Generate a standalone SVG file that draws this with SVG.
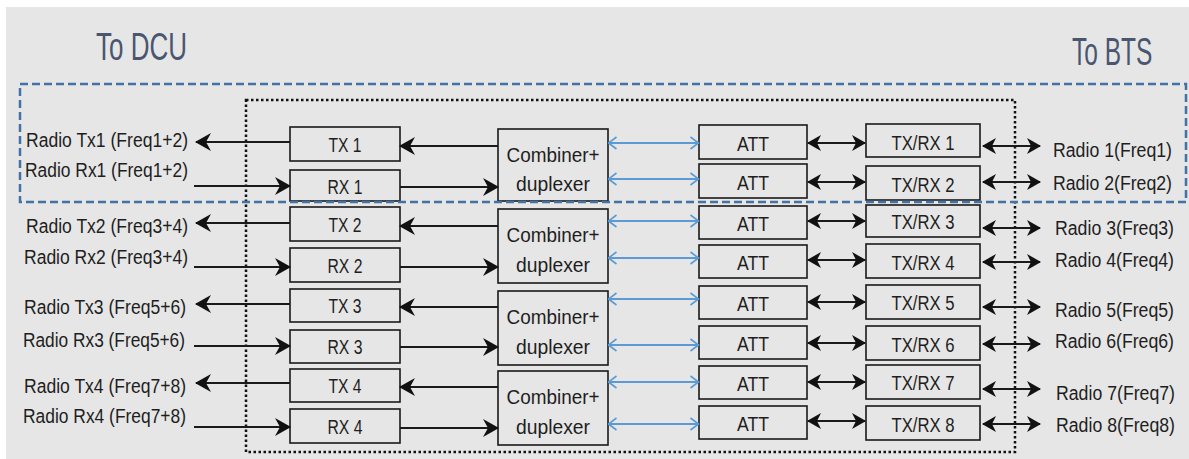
<svg xmlns="http://www.w3.org/2000/svg" width="1189" height="459" viewBox="0 0 1189 459">
<style>
.box{fill:none;stroke:#1a1a1a;stroke-width:1.6}
.t{font-family:"Liberation Sans",Arial,sans-serif;font-size:20px;fill:#1e1e1e}
.hd{font-family:"Liberation Sans",Arial,sans-serif;font-size:38px;fill:#4a5670}
.bl{stroke:#1a1a1a;stroke-width:1.8;fill:none}
.bu{stroke:#5b9bd5;stroke-width:1.8;fill:none}
</style>
<defs>
<marker id="ah" viewBox="0 0 16 18" refX="15" refY="9" markerWidth="16" markerHeight="18" markerUnits="userSpaceOnUse" orient="auto-start-reverse"><path d="M0,0 L16,9 L0,18 L5,9 z" fill="#111"/></marker>
<marker id="as" viewBox="0 0 14 16" refX="13" refY="8" markerWidth="14" markerHeight="16" markerUnits="userSpaceOnUse" orient="auto-start-reverse"><path d="M0,0 L14,8 L0,16 L4,8 z" fill="#111"/></marker>
<marker id="bh" viewBox="0 0 10 14" refX="9.5" refY="7" markerWidth="10" markerHeight="14" markerUnits="userSpaceOnUse" orient="auto-start-reverse"><path d="M1,1 L9,7 L1,13" fill="none" stroke="#5b9bd5" stroke-width="1.6"/></marker>
</defs>
<rect x="0" y="0" width="1189" height="459" fill="#ffffff"/>
<rect x="6" y="7" width="1183" height="452" fill="#e6e6e6"/>
<text class="hd" x="96" y="60" textLength="91" lengthAdjust="spacingAndGlyphs">To DCU</text>
<text class="hd" transform="translate(1072,65) scale(0.645,1)" x="0" y="0">To BTS</text>
<rect x="246" y="100" width="769" height="352" fill="none" stroke="#111" stroke-width="2.5" stroke-dasharray="2.5 2.5"/>

<g id="lbl-left">
<text class="t" x="26" y="147" textLength="162" lengthAdjust="spacingAndGlyphs">Radio Tx1 (Freq1+2)</text>
<text class="t" x="25" y="177" textLength="163" lengthAdjust="spacingAndGlyphs">Radio Rx1 (Freq1+2)</text>
<text class="t" x="26" y="233" textLength="162" lengthAdjust="spacingAndGlyphs">Radio Tx2 (Freq3+4)</text>
<text class="t" x="24" y="264" textLength="164" lengthAdjust="spacingAndGlyphs">Radio Rx2 (Freq3+4)</text>
<text class="t" x="24" y="314" textLength="162" lengthAdjust="spacingAndGlyphs">Radio Tx3 (Freq5+6)</text>
<text class="t" x="23" y="347" textLength="162" lengthAdjust="spacingAndGlyphs">Radio Rx3 (Freq5+6)</text>
<text class="t" x="24" y="393" textLength="162" lengthAdjust="spacingAndGlyphs">Radio Tx4 (Freq7+8)</text>
<text class="t" x="23" y="423" textLength="163" lengthAdjust="spacingAndGlyphs">Radio Rx4 (Freq7+8)</text>
</g>
<g id="lbl-right" text-anchor="end">
<text class="t" x="1172" y="157" text-anchor="end" textLength="119" lengthAdjust="spacingAndGlyphs">Radio 1(Freq1)</text>
<text class="t" x="1172" y="190" text-anchor="end" textLength="119" lengthAdjust="spacingAndGlyphs">Radio 2(Freq2)</text>
<text class="t" x="1174" y="235" text-anchor="end" textLength="119" lengthAdjust="spacingAndGlyphs">Radio 3(Freq3)</text>
<text class="t" x="1174" y="267" text-anchor="end" textLength="119" lengthAdjust="spacingAndGlyphs">Radio 4(Freq4)</text>
<text class="t" x="1174" y="317" text-anchor="end" textLength="119" lengthAdjust="spacingAndGlyphs">Radio 5(Freq5)</text>
<text class="t" x="1174" y="348" text-anchor="end" textLength="119" lengthAdjust="spacingAndGlyphs">Radio 6(Freq6)</text>
<text class="t" x="1175" y="400" text-anchor="end" textLength="119" lengthAdjust="spacingAndGlyphs">Radio 7(Freq7)</text>
<text class="t" x="1175" y="432" text-anchor="end" textLength="119" lengthAdjust="spacingAndGlyphs">Radio 8(Freq8)</text>
</g>

<g text-anchor="middle">
<g id="tx1"><rect class="box" x="290" y="127" width="110" height="34"/><text class="t" x="345" y="152" textLength="33" lengthAdjust="spacingAndGlyphs">TX 1</text></g>
<g id="rx1"><rect class="box" x="290" y="170" width="110" height="31"/><text class="t" x="345" y="194" textLength="35" lengthAdjust="spacingAndGlyphs">RX 1</text></g>
<g id="tx2"><rect class="box" x="290" y="207" width="110" height="34"/><text class="t" x="345" y="232" textLength="33" lengthAdjust="spacingAndGlyphs">TX 2</text></g>
<g id="rx2"><rect class="box" x="290" y="248" width="110" height="34"/><text class="t" x="345" y="273" textLength="35" lengthAdjust="spacingAndGlyphs">RX 2</text></g>
<g id="tx3"><rect class="box" x="290" y="289" width="110" height="33"/><text class="t" x="345" y="313" textLength="33" lengthAdjust="spacingAndGlyphs">TX 3</text></g>
<g id="rx3"><rect class="box" x="290" y="330" width="110" height="33"/><text class="t" x="345" y="354" textLength="35" lengthAdjust="spacingAndGlyphs">RX 3</text></g>
<g id="tx4"><rect class="box" x="290" y="369" width="110" height="33"/><text class="t" x="345" y="393" textLength="33" lengthAdjust="spacingAndGlyphs">TX 4</text></g>
<g id="rx4"><rect class="box" x="290" y="409" width="110" height="34"/><text class="t" x="345" y="434" textLength="35" lengthAdjust="spacingAndGlyphs">RX 4</text></g>

<g id="comb1"><rect class="box" x="498" y="129" width="110" height="72"/><text class="t" x="553" y="162" textLength="93" lengthAdjust="spacingAndGlyphs">Combiner+</text><text class="t" x="553" y="191" textLength="74" lengthAdjust="spacingAndGlyphs">duplexer</text></g>
<g id="comb2"><rect class="box" x="498" y="209" width="110" height="74"/><text class="t" x="553" y="242" textLength="93" lengthAdjust="spacingAndGlyphs">Combiner+</text><text class="t" x="553" y="272" textLength="74" lengthAdjust="spacingAndGlyphs">duplexer</text></g>
<g id="comb3"><rect class="box" x="498" y="291" width="110" height="74"/><text class="t" x="553" y="324" textLength="93" lengthAdjust="spacingAndGlyphs">Combiner+</text><text class="t" x="553" y="354" textLength="74" lengthAdjust="spacingAndGlyphs">duplexer</text></g>
<g id="comb4"><rect class="box" x="498" y="371" width="110" height="74"/><text class="t" x="553" y="404" textLength="93" lengthAdjust="spacingAndGlyphs">Combiner+</text><text class="t" x="553" y="434" textLength="74" lengthAdjust="spacingAndGlyphs">duplexer</text></g>

<g id="att1"><rect class="box" x="699" y="125" width="108" height="34"/><text class="t" x="753" y="151" textLength="32" lengthAdjust="spacingAndGlyphs">ATT</text></g>
<g id="att2"><rect class="box" x="699" y="164" width="108" height="34"/><text class="t" x="753" y="190" textLength="32" lengthAdjust="spacingAndGlyphs">ATT</text></g>
<g id="att3"><rect class="box" x="699" y="206" width="108" height="33"/><text class="t" x="753" y="231" textLength="32" lengthAdjust="spacingAndGlyphs">ATT</text></g>
<g id="att4"><rect class="box" x="699" y="245" width="108" height="33"/><text class="t" x="753" y="270" textLength="32" lengthAdjust="spacingAndGlyphs">ATT</text></g>
<g id="att5"><rect class="box" x="699" y="286" width="108" height="33"/><text class="t" x="753" y="311" textLength="32" lengthAdjust="spacingAndGlyphs">ATT</text></g>
<g id="att6"><rect class="box" x="699" y="326" width="108" height="33"/><text class="t" x="753" y="351" textLength="32" lengthAdjust="spacingAndGlyphs">ATT</text></g>
<g id="att7"><rect class="box" x="699" y="366" width="108" height="33"/><text class="t" x="753" y="391" textLength="32" lengthAdjust="spacingAndGlyphs">ATT</text></g>
<g id="att8"><rect class="box" x="699" y="406" width="108" height="33"/><text class="t" x="753" y="431" textLength="32" lengthAdjust="spacingAndGlyphs">ATT</text></g>

<g id="trx1"><rect class="box" x="866" y="124" width="114" height="33"/><text class="t" x="923" y="150" textLength="63" lengthAdjust="spacingAndGlyphs">TX/RX 1</text></g>
<g id="trx2"><rect class="box" x="866" y="166" width="114" height="34"/><text class="t" x="923" y="192" textLength="63" lengthAdjust="spacingAndGlyphs">TX/RX 2</text></g>
<g id="trx3"><rect class="box" x="866" y="205" width="114" height="32"/><text class="t" x="923" y="229" textLength="63" lengthAdjust="spacingAndGlyphs">TX/RX 3</text></g>
<g id="trx4"><rect class="box" x="866" y="244" width="114" height="34"/><text class="t" x="923" y="270" textLength="63" lengthAdjust="spacingAndGlyphs">TX/RX 4</text></g>
<g id="trx5"><rect class="box" x="866" y="285" width="114" height="34"/><text class="t" x="923" y="310" textLength="63" lengthAdjust="spacingAndGlyphs">TX/RX 5</text></g>
<g id="trx6"><rect class="box" x="866" y="326" width="114" height="34"/><text class="t" x="923" y="352" textLength="63" lengthAdjust="spacingAndGlyphs">TX/RX 6</text></g>
<g id="trx7"><rect class="box" x="866" y="365" width="114" height="34"/><text class="t" x="923" y="390" textLength="63" lengthAdjust="spacingAndGlyphs">TX/RX 7</text></g>
<g id="trx8"><rect class="box" x="866" y="406" width="114" height="34"/><text class="t" x="923" y="432" textLength="63" lengthAdjust="spacingAndGlyphs">TX/RX 8</text></g>
</g>

<g id="connectors">
<g marker-end="url(#ah)" class="bl">
<line x1="290" y1="142" x2="196" y2="142"/>
<line x1="290" y1="223" x2="196" y2="223"/>
<line x1="290" y1="304" x2="196" y2="304"/>
<line x1="290" y1="383" x2="196" y2="383"/>
<line x1="194" y1="186" x2="290" y2="186"/>
<line x1="194" y1="267" x2="290" y2="267"/>
<line x1="194" y1="346" x2="290" y2="346"/>
<line x1="194" y1="427" x2="290" y2="427"/>
<line x1="498" y1="146" x2="400" y2="146"/>
<line x1="498" y1="226" x2="400" y2="226"/>
<line x1="498" y1="307" x2="400" y2="307"/>
<line x1="498" y1="387" x2="400" y2="387"/>
<line x1="400" y1="187" x2="498" y2="187"/>
<line x1="400" y1="267" x2="498" y2="267"/>
<line x1="400" y1="347" x2="498" y2="347"/>
<line x1="400" y1="428" x2="498" y2="428"/>
</g>
<g marker-start="url(#bh)" marker-end="url(#bh)" class="bu">
<line x1="608" y1="143" x2="699" y2="143"/>
<line x1="608" y1="179" x2="699" y2="179"/>
<line x1="608" y1="221" x2="699" y2="221"/>
<line x1="608" y1="258" x2="699" y2="258"/>
<line x1="608" y1="299" x2="699" y2="299"/>
<line x1="608" y1="345" x2="699" y2="345"/>
<line x1="608" y1="382" x2="699" y2="382"/>
<line x1="608" y1="424" x2="699" y2="424"/>
</g>
<g marker-start="url(#as)" marker-end="url(#as)" class="bl">
<line x1="808" y1="143" x2="865" y2="143"/>
<line x1="808" y1="182" x2="865" y2="182"/>
<line x1="808" y1="221" x2="865" y2="221"/>
<line x1="808" y1="260" x2="865" y2="260"/>
<line x1="808" y1="302" x2="865" y2="302"/>
<line x1="808" y1="343" x2="865" y2="343"/>
<line x1="808" y1="382" x2="865" y2="382"/>
<line x1="808" y1="421" x2="865" y2="421"/>
</g>
<g marker-start="url(#as)" marker-end="url(#as)" class="bl">
<line x1="983" y1="146" x2="1040" y2="146"/>
<line x1="983" y1="182" x2="1040" y2="182"/>
<line x1="983" y1="228" x2="1040" y2="228"/>
<line x1="983" y1="262" x2="1040" y2="262"/>
<line x1="983" y1="307" x2="1040" y2="307"/>
<line x1="983" y1="344" x2="1040" y2="344"/>
<line x1="983" y1="389" x2="1040" y2="389"/>
<line x1="983" y1="424" x2="1040" y2="424"/>
</g>
</g>
<rect x="20" y="84" width="1166" height="118" fill="none" stroke="#4372a6" stroke-width="2.5" stroke-dasharray="8 4"/>
</svg>
